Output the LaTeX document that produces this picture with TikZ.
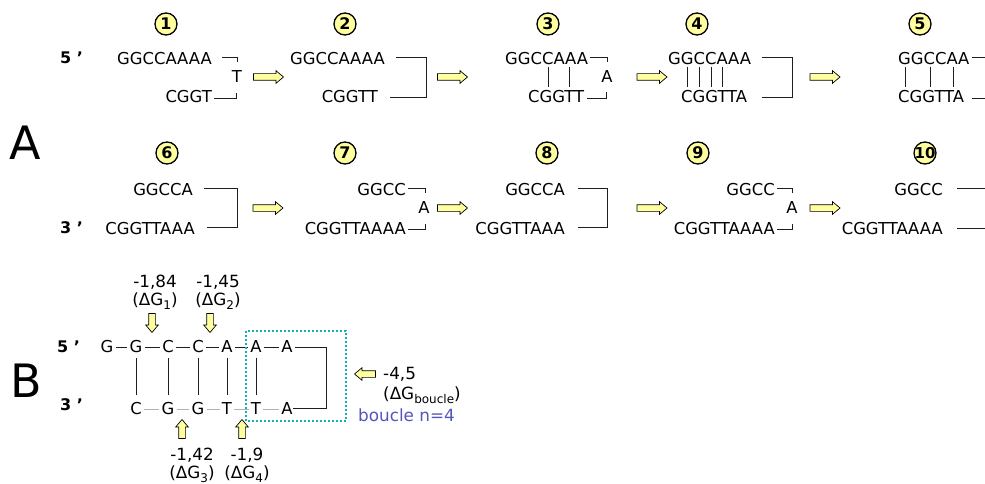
\documentclass[tikz,border=0pt]{standalone}
\usepackage{fontspec}
\setmainfont{DejaVu Sans}
\usetikzlibrary{shapes.arrows,calc}
\definecolor{yel}{RGB}{255,255,160}
\definecolor{tealbox}{RGB}{20,175,175}
\definecolor{bouclec}{RGB}{85,85,190}
\definecolor{ink}{RGB}{30,30,30}
\newcommand\mysub[1]{\raisebox{-0.45ex}{\fontsize{12}{12}\selectfont #1}}
\begin{document}
\begin{tikzpicture}[x=1pt,y=-1pt,
 seq/.style={inner sep=0pt, font=\fontsize{16.4}{19}\selectfont},
 lbl/.style={inner sep=0pt, font=\fontsize{16.8}{19}\selectfont},
 num/.style={circle, draw, fill=yel, line width=1.3pt, minimum size=22pt, inner sep=0pt, font=\fontsize{16}{16}\selectfont\bfseries},
 ends/.style={inner sep=0pt, anchor=west, font=\fontsize{16}{16}\selectfont\bfseries},
 big/.style={inner sep=0pt, font=\fontsize{46}{46}\selectfont},
 brk/.style={line width=0.9pt, ink},
 pair/.style={line width=0.9pt, ink},
 bdash/.style={line width=1pt, ink, shorten <=2pt, shorten >=2pt},
 gdash/.style={line width=0.9pt, gray!60, shorten <=2pt, shorten >=2pt},
 barrow/.style={single arrow, draw, fill=yel, line width=0.7pt, minimum height=30pt, inner sep=3pt, single arrow head extend=3pt, single arrow tip angle=80},
 sarrow/.style={barrow, minimum height=19pt}
]
\useasboundingbox (0,0) rectangle (985,484);
\clip (0,0) rectangle (985,484);
\fill[white] (0,0) rectangle (985,484);

% ---------- Part A labels
\node[big] (bigA) at (25,143) {A};
\node[ends] (p5a) at (60,58) {5 ’};
\node[ends] (p3a) at (60,228) {3 ’};

% numbers
\node[num] (n1) at (166,24) {1};
\node[num] (n2) at (345,24) {2};
\node[num] (n3) at (548,24) {3};
\node[num] (n4) at (697,24) {4};
\node[num] (n5) at (920,24) {5};
\node[num] (n6) at (167,153) {6};
\node[num] (n7) at (345,153) {7};
\node[num] (n8) at (547,153) {8};
\node[num] (n9) at (698,153) {9};
\node[num, font=\fontsize{15}{15}\selectfont\bfseries] (n10) at (925,153) {\kern-1pt 10\kern-1pt};

% ---------- Step 1
\node[seq,anchor=west] (s1t) at (117,59) {GGCCAAAA};
\node[seq] (s1x) at (237,77) {T};
\node[seq,anchor=east] (s1b) at (212,97) {CGGT};
\draw[brk] (222,57) -- (237,57) -- (237,62);
\draw[brk] (214,98) -- (236,98) -- (236,93);
% Step 2
\node[seq,anchor=west] (s2t) at (290,59) {GGCCAAAA};
\node[seq,anchor=east] (s2b) at (378,97) {CGGTT};
\draw[brk] (396,57) -- (426,57) -- (426,97) -- (390,97);
% Step 3
\node[seq,anchor=west] (s3t) at (505,59) {GGCCAAA};
\node[seq] (s3x) at (607,77) {A};
\node[seq,anchor=west] (s3b) at (528,97) {CGGTT};
\draw[brk] (590,57) -- (607,57) -- (607,62);
\draw[brk] (587,98) -- (606,98) -- (606,92);
\foreach \x in {548,569} \draw[pair] (\x,67) -- (\x,87);
% Step 4
\node[seq,anchor=west] (s4t) at (668,59) {GGCCAAA};
\node[seq,anchor=west] (s4b) at (681,97) {CGGTTA};
\foreach \x in {687,699,711,722} \draw[pair] (\x,67) -- (\x,87);
\draw[brk] (762,57) -- (792,57) -- (792,97) -- (762,97);
% Step 5
\node[seq,anchor=west] (s5t) at (898,59) {GGCCAA};
\node[seq,anchor=west] (s5b) at (898,97) {CGGTTA};
\node[seq] (s5x) at (991,77) {A};
\foreach \x in {905,930,953} \draw[pair] (\x,67) -- (\x,87);
\draw[brk] (972,57) -- (990,57) -- (990,62);
\draw[brk] (972,98) -- (990,98) -- (990,92);

% arrows row 1
\node[barrow] (a12) at (266.5,77) {};
\node[barrow] (a23) at (450.5,77) {};
\node[barrow] (a34) at (650,77) {};
\node[barrow] (a45) at (823,77) {};

% ---------- Step 6
\node[seq,anchor=east] (s6t) at (193,190) {GGCCA};
\node[seq,anchor=east] (s6b) at (195,229) {CGGTTAAA};
\draw[brk] (204,188) -- (237,188) -- (237,227) -- (207,227);
% Step 7
\node[seq,anchor=east] (s7t) at (406,190) {GGCC};
\node[seq] (s7x) at (424,208) {A};
\node[seq,anchor=east] (s7b) at (406,229) {CGGTTAAAA};
\draw[brk] (408,188) -- (425,188) -- (425,193);
\draw[brk] (408,229) -- (425,229) -- (425,224);
% Step 8
\node[seq,anchor=east] (s8t) at (565,190) {GGCCA};
\node[seq,anchor=east] (s8b) at (565,229) {CGGTTAAA};
\draw[brk] (578,188) -- (607,188) -- (607,227) -- (578,227);
% Step 9
\node[seq,anchor=east] (s9t) at (775,190) {GGCC};
\node[seq] (s9x) at (792,208) {A};
\node[seq,anchor=east] (s9b) at (775,229) {CGGTTAAAA};
\draw[brk] (777,188) -- (792,188) -- (792,193);
\draw[brk] (777,229) -- (792,229) -- (792,224);
% Step 10
\node[seq,anchor=east] (s10t) at (943,190) {GGCC};
\node[seq,anchor=east] (s10b) at (943,229) {CGGTTAAAA};
\draw[brk] (957,188) -- (985,188);
\draw[brk] (957,228) -- (985,228);

% arrows row 2
\node[barrow] (a67) at (266,208) {};
\node[barrow] (a78) at (450.5,208) {};
\node[barrow] (a89) at (650,208) {};
\node[barrow] (a910) at (823,208) {};

% ---------- Part B
\node[big] (bigB) at (26,381) {B};
\node[ends] (p5b) at (57,347) {5 ’};
\node[ends] (p3b) at (60,405) {3 ’};

\node[seq] (tg1) at (107,347) {G};
\node[seq] (tg2) at (136,347) {G};
\node[seq] (tc3) at (168,347) {C};
\node[seq] (tc4) at (198,347) {C};
\node[seq] (ta5) at (227,347) {A};
\node[seq] (ta6) at (256,347) {A};
\node[seq] (ta7) at (287,347) {A};

\node[seq] (bc1) at (136,409) {C};
\node[seq] (bg2) at (168,409) {G};
\node[seq] (bg3) at (198,409) {G};
\node[seq] (bt4) at (227,409) {T};
\node[seq] (bt5) at (256,409) {T};
\node[seq] (ba6) at (287,409) {A};

\draw[bdash] (tg1) -- (tg2);
\draw[bdash] (tg2) -- (tc3);
\draw[bdash] (tc3) -- (tc4);
\draw[bdash] (tc4) -- (ta5);
\draw[bdash] (ta5) -- (ta6);
\draw[bdash] (ta6) -- (ta7);
\draw[gdash] (bc1) -- (bg2);
\draw[gdash] (bg2) -- (bg3);
\draw[gdash] (bg3) -- (bt4);
\draw[gdash] (bt4) -- (bt5);
\draw[gdash] (bt5) -- (ba6);
\coordinate (lpTop) at (326,347);
\coordinate (lpBot) at (326,408);
\draw[brk, shorten <=2pt] (ta7) -- (lpTop) -- (lpBot) -- (ba6.east |- lpBot);

\draw[pair] ([yshift=-4.5pt]tg2.south) -- ([yshift=7.5pt]bc1.north);
\draw[pair] ([yshift=-4.5pt]tc3.south) -- ([yshift=7.5pt]bg2.north);
\draw[pair] ([yshift=-4.5pt]tc4.south) -- ([yshift=7.5pt]bg3.north);
\draw[pair] ([yshift=-4.5pt]ta5.south) -- ([yshift=7.5pt]bt4.north);
\draw[pair] ([yshift=-4.5pt]ta6.south) -- ([yshift=7.5pt]bt5.north);

\draw[tealbox, line width=2pt, dash pattern=on 2pt off 2pt] (246,331) rectangle (346,421);

\node[sarrow, shape border rotate=270] (d1) at (152,321) {};
\node[sarrow, shape border rotate=270] (d2) at (210,321) {};
\node[sarrow, shape border rotate=90] (u3) at (182,431) {};
\node[sarrow, shape border rotate=90] (u4) at (242,431) {};
\node[sarrow, shape border rotate=180, minimum height=21pt] (lb) at (367,374) {};

\node[lbl] (l1) at (155,282) {-1,84};
\node[lbl] (g1) at (155,301) {(ΔG\mysub{1})};
\node[lbl] (l2) at (218,282) {-1,45};
\node[lbl] (g2) at (218,301) {(ΔG\mysub{2})};
\node[lbl] (l3) at (192,455) {-1,42};
\node[lbl] (g3) at (192,474) {(ΔG\mysub{3})};
\node[lbl] (l4) at (247,455) {-1,9};
\node[lbl] (g4) at (247,474) {(ΔG\mysub{4})};
\node[lbl, anchor=west] (l5) at (383,374) {-4,5};
\node[lbl, anchor=west] (g5) at (383,395) {(ΔG\mysub{boucle})};
\node[lbl, anchor=west, text=bouclec] (bn) at (358,415) {boucle n=4};
\end{tikzpicture}
\end{document}
